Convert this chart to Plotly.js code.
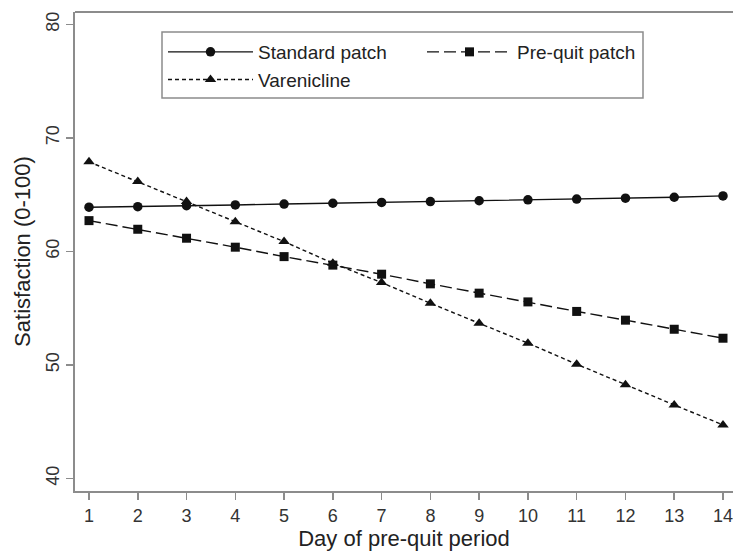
<!DOCTYPE html>
<html>
<head>
<meta charset="utf-8">
<script src="https://cdn.plot.ly/plotly-3.0.1.min.js"></script>
<style>html,body{margin:0;padding:0;background:#fff;}</style>
</head>
<body>
<div id="chart" style="width:733px;height:553px;"></div>
<script>
const days = [1,2,3,4,5,6,7,8,9,10,11,12,13,14];
const standardPatch = [63.9,63.95,64.03,64.1,64.18,64.25,64.32,64.4,64.47,64.55,64.62,64.7,64.78,64.9];
const preQuitPatch = [62.72,61.96,61.17,60.38,59.55,58.8,58.0,57.15,56.33,55.56,54.72,53.95,53.15,52.36];
const varenicline = [67.9,66.16,64.4,62.63,60.87,58.97,57.26,55.44,53.68,51.92,50.07,48.25,46.48,44.72];
const seriesNames = ["Standard patch","Pre-quit patch","Varenicline"];
const yTicks = [40,50,60,70,80];

const ink = "#111";
const frame = "#8c8c8c";
const font = "Liberation Sans, Arial, sans-serif";

// pixel -> paper helpers (plot area: x 75..733, y 12..491)
const px = v => (v - 75) / 658;
const py = v => 1 - (v - 12) / 479;

const traces = [
  {x: days, y: standardPatch, name: seriesNames[0], type: "scatter", mode: "lines+markers",
   legend: "legend", legendgroup: "a",
   line: {color: ink, width: 1.4, dash: "solid"},
   marker: {symbol: "circle", size: 9.5, color: ink}},
  {x: days, y: preQuitPatch, name: seriesNames[1], type: "scatter", mode: "lines+markers",
   legend: "legend2",
   line: {color: ink, width: 1.4, dash: "12px,5px"},
   marker: {symbol: "square", size: 9, color: ink}},
  {x: days, y: varenicline, name: seriesNames[2], type: "scatter", mode: "lines+markers",
   legend: "legend", legendgroup: "b",
   line: {color: ink, width: 1.4, dash: "4px,3px"},
   marker: {symbol: "triangle-up", size: 10, color: ink}}
];

const legendCommon = {
  orientation: "v", xanchor: "left", yanchor: "top",
  borderwidth: 0, bgcolor: "rgba(0,0,0,0)", itemwidth: 85,
  font: {family: font, size: 19, color: "#222"}, traceorder: "normal", tracegroupgap: 2
};

const layout = {
  width: 733, height: 553,
  margin: {l: 75, r: 0, t: 12, b: 62},
  paper_bgcolor: "#fff", plot_bgcolor: "#fff",
  font: {family: font, size: 18, color: "#333"},
  showlegend: true,
  legend: Object.assign({}, legendCommon, {x: px(163), y: py(33)}),
  legend2: Object.assign({}, legendCommon, {x: px(422), y: py(33)}),
  xaxis: {
    range: [0.713, 14.205], tickvals: days, ticktext: days.map(String),
    showgrid: false, zeroline: false, showline: true, linecolor: frame, linewidth: 2,
    ticks: "outside", ticklen: 7, tickcolor: frame, tickwidth: 1.5,
    ticklabeloverflow: "allow",
    tickfont: {family: font, size: 18, color: "#333"},
    title: {text: "Day of pre-quit period", font: {family: font, size: 22, color: "#222"}, standoff: 4}
  },
  yaxis: {
    range: [38.9, 81.1], tickvals: yTicks, ticktext: yTicks.map(String), tickangle: -90,
    showgrid: false, zeroline: false, showline: true, linecolor: frame, linewidth: 2,
    ticks: "outside", ticklen: 7, tickcolor: frame, tickwidth: 1.5,
    tickfont: {family: font, size: 18, color: "#333"},
    title: {text: "Satisfaction (0-100)", font: {family: font, size: 22, color: "#222"}, standoff: 6}
  },
  shapes: [
    {type: "line", xref: "paper", yref: "paper", x0: 0, x1: 1, y0: 1, y1: 1,
     line: {color: frame, width: 2}},
    {type: "rect", xref: "paper", yref: "paper", x0: px(162), x1: px(643), y0: py(98), y1: py(32),
     line: {color: frame, width: 1.5}, fillcolor: "rgba(0,0,0,0)"}
  ]
};

Plotly.newPlot("chart", traces, layout, {displayModeBar: false, staticPlot: true});
</script>
</body>
</html>
